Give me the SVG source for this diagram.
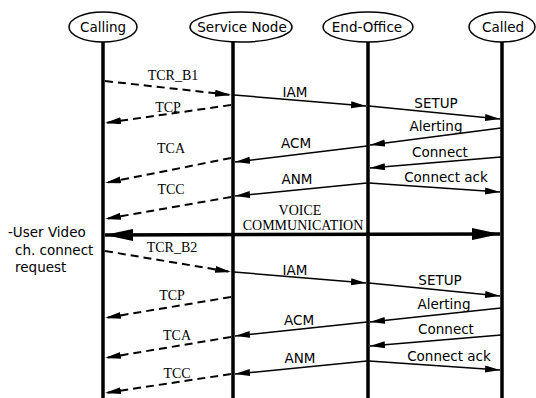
<svg xmlns="http://www.w3.org/2000/svg" width="536" height="398" viewBox="0 0 536 398">
<defs>
<style>
.node{fill:#fff;stroke:#000;stroke-width:1.5}
.life{stroke:#000;stroke-width:3.5}
.nt{font-family:"DejaVu Sans",sans-serif;font-size:13.5px;text-anchor:middle;fill:#000}
.sl{font-family:"DejaVu Sans",sans-serif;font-size:13.5px;text-anchor:middle;fill:#000}
.tl{font-family:"Liberation Serif",serif;font-size:14px;text-anchor:middle;fill:#000}
.side{font-family:"DejaVu Sans",sans-serif;font-size:13.5px;fill:#000}
.msg{fill:none;stroke:#000;stroke-width:1.5;marker-end:url(#ah)}
.tc{fill:none;stroke:#000;stroke-width:2;stroke-dasharray:8 5;marker-end:url(#ah2)}
.voice{fill:none;stroke:#000;stroke-width:3.5;marker-start:url(#vh);marker-end:url(#vh)}
</style>
<marker id="ah" markerUnits="userSpaceOnUse" markerWidth="15" markerHeight="8" refX="15" refY="3.5" orient="auto">
<path d="M0,0 L15,3.5 L0,7 z" fill="#000"/>
</marker>
<marker id="ah2" markerUnits="userSpaceOnUse" markerWidth="16" markerHeight="8" refX="16" refY="3.5" orient="auto">
<path d="M0,0 L16,3.5 L0,7 z" fill="#000"/>
</marker>
<marker id="vh" markerUnits="userSpaceOnUse" markerWidth="28" markerHeight="12" refX="28" refY="6" orient="auto-start-reverse">
<path d="M0,0 L28,6 L0,12 z" fill="#000"/>
</marker>
</defs>
<rect width="536" height="398" fill="#fff"/>

<g id="calling">
<line class="life" x1="103" y1="40" x2="103" y2="398"/>
<ellipse class="node" cx="103" cy="27" rx="34" ry="15"/>
<text class="nt" x="103" y="32">Calling</text>
</g>
<g id="service-node">
<line class="life" x1="233" y1="40" x2="233" y2="398"/>
<ellipse class="node" cx="241" cy="27" rx="51" ry="15"/>
<text class="nt" x="242" y="32">Service Node</text>
</g>
<g id="end-office">
<line class="life" x1="368" y1="40" x2="368" y2="398"/>
<ellipse class="node" cx="368" cy="27" rx="45" ry="15"/>
<text class="nt" x="367" y="32">End-Office</text>
</g>
<g id="called">
<line class="life" x1="502" y1="40" x2="502" y2="398"/>
<ellipse class="node" cx="502" cy="27" rx="33" ry="15"/>
<text class="nt" x="503" y="32">Called</text>
</g>

<g id="connectors">
<path class="tc" d="M105,81 L231,95"/>
<path class="msg" d="M234,95 L366,106"/>
<path class="msg" d="M369,106 L500,119"/>
<path class="tc" d="M231,105 L105,123"/>
<path class="msg" d="M501,128 L370,145"/>
<path class="msg" d="M367,146 L235,162"/>
<path class="tc" d="M231,158 L105,183"/>
<path class="msg" d="M501,157 L370,168"/>
<path class="msg" d="M369,183 L500,192"/>
<path class="msg" d="M367,183 L235,196"/>
<path class="tc" d="M231,197 L105,219"/>
<path class="voice" d="M105,235 L500,234"/>
<path class="tc" d="M105,251 L231,272"/>
<path class="msg" d="M234,272 L366,283"/>
<path class="msg" d="M369,283 L500,296"/>
<path class="tc" d="M231,297 L105,318"/>
<path class="msg" d="M501,308 L370,322"/>
<path class="msg" d="M367,322 L235,336"/>
<path class="tc" d="M231,337 L105,358"/>
<path class="msg" d="M501,335 L370,346"/>
<path class="msg" d="M369,361 L500,370"/>
<path class="msg" d="M367,361 L235,374"/>
<path class="tc" d="M231,374 L105,393"/>
</g>

<g id="labels">
<text class="tl" x="173" y="80">TCR_B1</text>
<text class="sl" x="295" y="97">IAM</text>
<text class="sl" x="436" y="108">SETUP</text>
<text class="tl" x="168" y="112">TCP</text>
<text class="sl" x="436" y="131">Alerting</text>
<text class="sl" x="296" y="148">ACM</text>
<text class="tl" x="171" y="153">TCA</text>
<text class="sl" x="440" y="157">Connect</text>
<text class="sl" x="446" y="182">Connect ack</text>
<text class="sl" x="297" y="184">ANM</text>
<text class="tl" x="171" y="194">TCC</text>
<text class="tl" x="300" y="215">VOICE</text>
<text class="tl" x="303" y="230">COMMUNICATION</text>
<text class="side" x="8" y="237">-User Video</text>
<text class="side" x="15" y="255">ch. connect</text>
<text class="side" x="15" y="272">request</text>
<text class="tl" x="172" y="252">TCR_B2</text>
<text class="sl" x="295" y="275">IAM</text>
<text class="sl" x="440" y="285">SETUP</text>
<text class="tl" x="172" y="300">TCP</text>
<text class="sl" x="444" y="309">Alerting</text>
<text class="sl" x="299" y="325">ACM</text>
<text class="sl" x="446" y="334">Connect</text>
<text class="tl" x="177" y="340">TCA</text>
<text class="sl" x="449" y="361">Connect ack</text>
<text class="sl" x="300" y="363">ANM</text>
<text class="tl" x="177" y="378">TCC</text>
</g>
</svg>
